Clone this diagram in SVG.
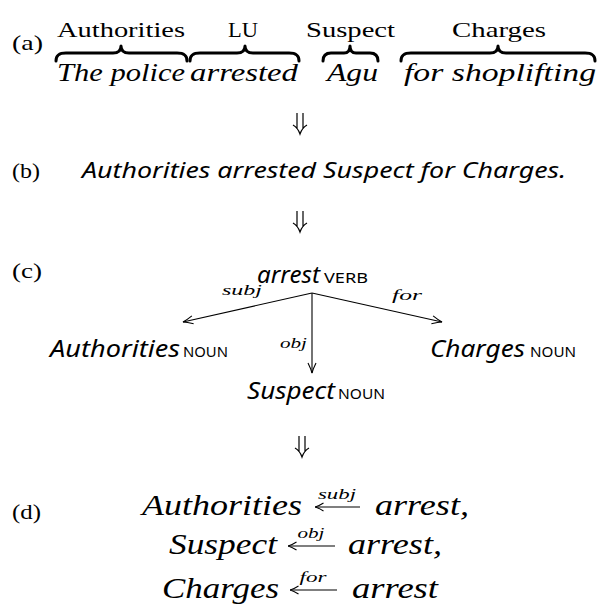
<svg xmlns="http://www.w3.org/2000/svg" width="601" height="612" viewBox="0 0 601 612">
<defs>
<marker id="vh" viewBox="0 0 12 10" refX="11" refY="5" markerWidth="12" markerHeight="10" markerUnits="userSpaceOnUse" orient="auto">
<path d="M1,1 Q7,4 11,5 Q7,6 1,9" fill="none" stroke="#000" stroke-width="1.1"/>
</marker>
<marker id="ch" viewBox="0 0 10 10" refX="9.5" refY="5" markerWidth="10" markerHeight="10" markerUnits="userSpaceOnUse" orient="auto">
<path d="M1,1 Q6,4.2 9.5,5 Q6,5.8 1,9" fill="none" stroke="#000" stroke-width="1.1"/>
</marker>
</defs>
<style>
text{fill:#000}
.lab{font-family:"Liberation Serif",serif;font-size:21px}
.rom{font-family:"Liberation Serif",serif;font-size:21px}
.mi{font-family:"Liberation Serif",serif;font-style:italic;font-size:25px}
.md{font-family:"Liberation Serif",serif;font-style:italic;font-size:29px}
.ms{font-family:"Liberation Serif",serif;font-style:italic;font-size:15px}
.op{font-family:"Noto Sans",sans-serif;font-style:italic;font-size:24px}
.ob{font-family:"Noto Sans",sans-serif;font-style:italic;font-size:21px}
.sc{font-family:"Noto Sans",sans-serif;font-size:15px}
.brace{fill:none;stroke:#000;stroke-width:3;stroke-linecap:round;stroke-linejoin:round}
.conn{fill:none;stroke:#000;stroke-width:1.1}
.dbl{fill:none;stroke:#000;stroke-width:1.2}
</style>

<g id="labels">
<text class="lab" x="12" y="50" textLength="31" lengthAdjust="spacingAndGlyphs">(a)</text>
<text class="lab" x="12" y="178" textLength="28" lengthAdjust="spacingAndGlyphs">(b)</text>
<text class="lab" x="12" y="278" textLength="30" lengthAdjust="spacingAndGlyphs">(c)</text>
<text class="lab" x="12" y="519" textLength="29" lengthAdjust="spacingAndGlyphs">(d)</text>
</g>

<g id="a-roles">
<text class="rom" x="57" y="37" textLength="128" lengthAdjust="spacingAndGlyphs">Authorities</text>
<text class="rom" x="228" y="37" textLength="30" lengthAdjust="spacingAndGlyphs">LU</text>
<text class="rom" x="306" y="37" textLength="89" lengthAdjust="spacingAndGlyphs">Suspect</text>
<text class="rom" x="452" y="37" textLength="94" lengthAdjust="spacingAndGlyphs">Charges</text>
</g>

<g id="a-braces">
<path class="brace" d="M56,61 C56,55 59,53 66,53 L113,53 C118,53 121,51 121,46 C121,51 124,53 129,53 L177,53 C184,53 187,55 187,61"/>
<path class="brace" d="M190,61 C190,55 193,53 200,53 L237,53 C242,53 245,51 245,46 C245,51 248,53 253,53 L289,53 C296,53 299,55 299,61"/>
<path class="brace" d="M323,61 C323,55 326,53 331,53 L344,53 C348,53 350,51 350,46 C350,51 352,53 356,53 L370,53 C375,53 378,55 378,61"/>
<path class="brace" d="M401,61 C401,55 404,53 411,53 L490,53 C495,53 498,51 498,46 C498,51 501,53 506,53 L585,53 C592,53 595,55 595,61"/>
</g>

<g id="a-words">
<text class="mi" x="57" y="81" textLength="128" lengthAdjust="spacingAndGlyphs">The police</text>
<text class="mi" x="190" y="81" textLength="108" lengthAdjust="spacingAndGlyphs">arrested</text>
<text class="mi" x="327" y="81" textLength="51" lengthAdjust="spacingAndGlyphs">Agu</text>
<text class="mi" x="404" y="81" textLength="192" lengthAdjust="spacingAndGlyphs">for shoplifting</text>
</g>

<g id="b-sentence">
<text class="ob" x="82" y="178" textLength="484" lengthAdjust="spacingAndGlyphs">Authorities arrested Suspect for Charges.</text>
</g>

<g id="c-arrest">
<text class="op" x="257" y="283" textLength="63" lengthAdjust="spacingAndGlyphs">arrest</text>
<text class="sc" x="324" y="283" textLength="44" lengthAdjust="spacingAndGlyphs">VERB</text>
</g>
<g id="c-authorities">
<text class="op" x="50" y="357" textLength="130" lengthAdjust="spacingAndGlyphs">Authorities</text>
<text class="sc" x="183" y="357" textLength="45" lengthAdjust="spacingAndGlyphs">NOUN</text>
</g>
<g id="c-charges">
<text class="op" x="430" y="357" textLength="95" lengthAdjust="spacingAndGlyphs">Charges</text>
<text class="sc" x="530" y="357" textLength="46" lengthAdjust="spacingAndGlyphs">NOUN</text>
</g>
<g id="c-suspect">
<text class="op" x="247" y="399" textLength="88" lengthAdjust="spacingAndGlyphs">Suspect</text>
<text class="sc" x="338" y="399" textLength="47" lengthAdjust="spacingAndGlyphs">NOUN</text>
</g>

<g id="d-relations">
<text class="md" x="142" y="515" textLength="160" lengthAdjust="spacingAndGlyphs">Authorities</text>
<text class="ms" x="337" y="499" text-anchor="middle" textLength="38" lengthAdjust="spacingAndGlyphs">subj</text>
<text class="md" x="375" y="515" textLength="94" lengthAdjust="spacingAndGlyphs">arrest,</text>
<text class="md" x="169" y="554" textLength="108" lengthAdjust="spacingAndGlyphs">Suspect</text>
<text class="ms" x="311" y="538" text-anchor="middle" textLength="27" lengthAdjust="spacingAndGlyphs">obj</text>
<text class="md" x="348" y="554" textLength="94" lengthAdjust="spacingAndGlyphs">arrest,</text>
<text class="md" x="162" y="598" textLength="117" lengthAdjust="spacingAndGlyphs">Charges</text>
<text class="ms" x="313" y="582" text-anchor="middle" textLength="27" lengthAdjust="spacingAndGlyphs">for</text>
<text class="md" x="352" y="598" textLength="86" lengthAdjust="spacingAndGlyphs">arrest</text>
</g>

<g id="connectors">
<!-- double arrows between stages -->
<path class="dbl" d="M297,113 V129 M303,113 V129 M293,125 Q298,128 300,134 Q302,128 307,125"/>
<path class="dbl" d="M297,211 V227 M303,211 V227 M293,223 Q298,226 300,232 Q302,226 307,223"/>
<path class="dbl" d="M299,436 V452 M305,436 V452 M295,448 Q300,451 302,457 Q304,451 309,448"/>
<!-- dependency tree -->
<line class="conn" x1="312" y1="293" x2="183" y2="322" marker-end="url(#vh)"/>
<line class="conn" x1="312" y1="293" x2="442" y2="322" marker-end="url(#vh)"/>
<line class="conn" x1="312" y1="293" x2="312" y2="373" marker-end="url(#vh)"/>
<text class="ms" x="222" y="295" textLength="40" lengthAdjust="spacingAndGlyphs">subj</text>
<text class="ms" x="392" y="300" textLength="30" lengthAdjust="spacingAndGlyphs">for</text>
<text class="ms" x="280" y="348" textLength="27" lengthAdjust="spacingAndGlyphs">obj</text>
<!-- relation arrows -->
<line class="conn" x1="360" y1="507" x2="315" y2="507" marker-end="url(#ch)"/>
<line class="conn" x1="335" y1="546" x2="288" y2="546" marker-end="url(#ch)"/>
<line class="conn" x1="337" y1="590" x2="290" y2="590" marker-end="url(#ch)"/>
</g>
</svg>
